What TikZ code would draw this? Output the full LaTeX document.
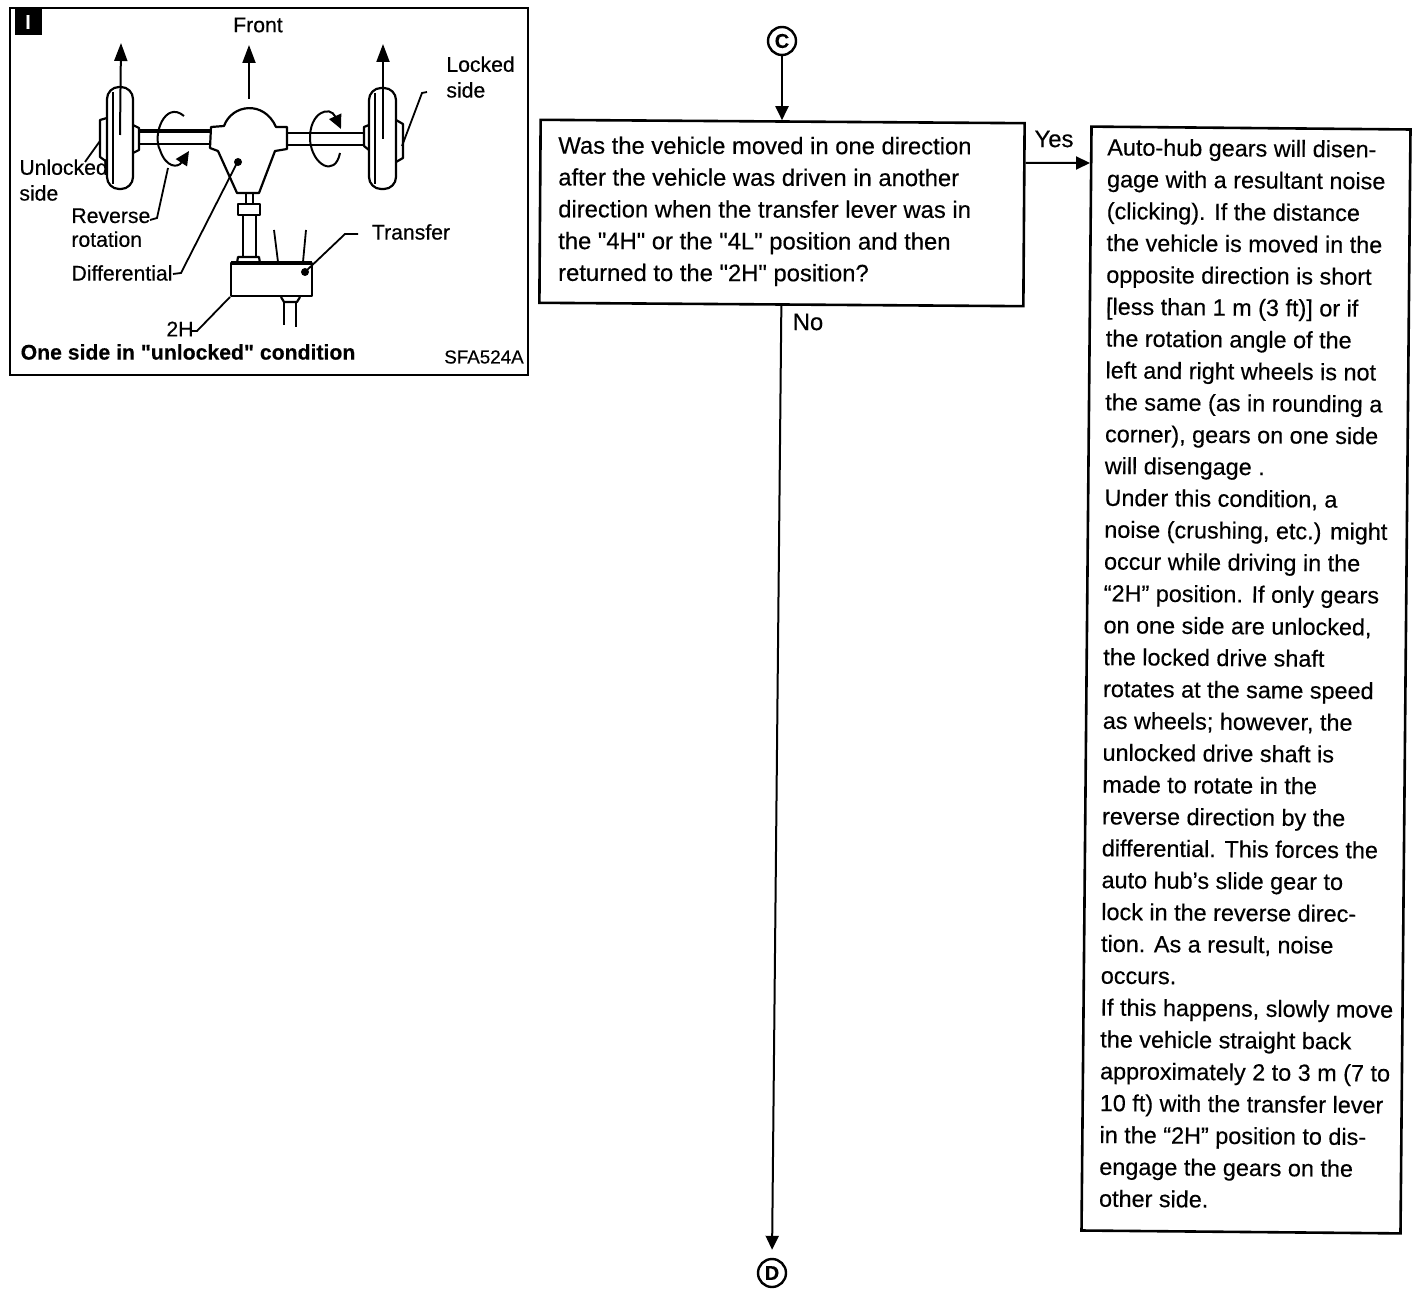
\documentclass[tikz,border=0pt]{standalone}
\usepackage{xcolor}
\usepackage{fontspec}
\setmainfont[FakeBold=0.35]{Liberation Sans}
\usepackage{tikz}
\usetikzlibrary{arrows.meta,positioning}
\definecolor{ink}{HTML}{000000}
\newcommand{\qmark}{\XeTeXglyph\XeTeXcharglyph34\relax}
\tikzset{
  flowbox/.style={rectangle,draw=ink,line width=1.3pt,inner sep=0pt,fill=white},
  flowtext/.style={font=\fontsize{11.9}{15.9}\selectfont,align=left,anchor=north west,inner sep=0pt},
  conn/.style={-{Stealth[length=7pt,width=6.5pt,inset=0pt]},draw=ink,line width=1pt},
  bigconn/.style={-{Stealth[length=9pt,width=6.5pt,inset=0pt]},draw=ink,line width=1pt},
  onpage/.style={circle,draw=ink,line width=1.2pt,inner sep=0pt,minimum size=14pt,font=\fontsize{10}{10}\selectfont\bfseries},
  lbl/.style={font=\fontsize{10.6}{12.4}\selectfont,align=left,inner sep=0pt,text=ink},
  part/.style={draw=ink,line width=1.1pt,line join=round},
  thin/.style={draw=ink,line width=0.9pt},
}
\begin{document}
\begin{tikzpicture}[x=0.5pt,y=-0.5pt]
\useasboundingbox (0,0) rectangle (1424,1294);
\fill[white] (0,0) rectangle (1424,1294);
% inset frame
\node[rectangle,draw=ink,line width=1.3pt,minimum width=259pt,minimum height=183.5pt,inner sep=0pt] (inset) at (269,191.5) {};
\node[rectangle,fill=ink,text=white,minimum width=13.5pt,minimum height=13.5pt,inner sep=0pt,font=\fontsize{10}{10}\selectfont\bfseries] (tag) at (28,22) {I};
% wheels
\draw[part,rounded corners=6pt] (107,87) rectangle (133,189);
\draw[part] (113,92) -- (113,184);
\draw[part,rounded corners=6pt] (369,88) rectangle (396,189);
\draw[part] (375,93) -- (375,184);
\draw[part] (107,118) -- (100,120) -- (100,157) -- (107,162);
\draw[part] (133,125) -- (139,128) -- (139,150) -- (133,153);
\draw[part] (369,125) -- (364,127) -- (364,146) -- (369,150);
\draw[part] (396,120) -- (403,124) -- (403,158) -- (396,162);
% shafts
\draw[draw=ink,line width=1.7pt] (139,131) -- (210,131);
\draw[draw=ink,line width=1.4pt] (139,144) -- (210,144);
\draw[part] (287,133) -- (364,133);
\draw[part] (287,145) -- (364,145);
% differential
\draw[part,fill=white] (224,126) .. controls (232,104) and (264,100) .. (276,127) -- (287,127) -- (287,149) -- (275,151) -- (259,193) -- (237,193) -- (218,151) -- (210,148) -- (211,127) -- cycle;
\draw[part] (246,193) -- (246,203);
\draw[part] (253,193) -- (253,203);
\draw[part] (238,204) rectangle (260,215);
\draw[part] (243,215) -- (243,257);
\draw[part] (256,215) -- (256,257);
\draw[part] (237,263) -- (238,257) -- (259,257) -- (260,263);
% transfer
\draw[part] (231,263) rectangle (312,296);
\draw[draw=ink,line width=1.8pt] (231,263) -- (312,263);
\draw[thin] (274,230) -- (278,262);
\draw[thin] (306,230) -- (303,262);
\draw[part] (281,297) -- (284,302) -- (297,302) -- (300,297);
\draw[part] (284,302) -- (284,325);
\draw[part] (296,302) -- (296,327);
% travel arrows
\draw[bigconn] (120,135) -- (121,43);
\draw[bigconn] (249,99) -- (249,45);
\draw[bigconn] (383,139) -- (383,44);
% rotation arrows
\draw[conn] (184,116) .. controls (165,100) and (152,135) .. (160,150) .. controls (166,168) and (178,168) .. (189,151);
\draw[conn] (340,153) .. controls (335,178) and (312,165) .. (310,140) .. controls (309,112) and (330,105) .. (341,129);
% labels
\node[lbl] (front) at (258,25) {Front};
\node[lbl,anchor=north west] (locked) at (446,56) {Locked\\[0.5pt]side};
\node[lbl,anchor=north west] (unlocked) at (19,159) {Unlocked\\[0.5pt]side};
\node[lbl,anchor=north west] (reverse) at (71,208) {Reverse\\[-0.5pt]rotation};
\node[lbl] (differential) at (122,273) {Differential};
\node[lbl] (transfer) at (411,232) {Transfer};
\node[lbl] (twoh) at (180,329) {2H};
\node[lbl,font=\fontsize{10.6}{11}\selectfont\bfseries] (caption) at (188,352) {One side in \qmark unlocked\qmark{} condition};
\node[lbl,font=\fontsize{9.4}{11}\selectfont] (code) at (484,357) {SFA524A};
% leaders
\draw[thin] (100,141) -- (85,162);
\draw[thin] (168,168) -- (157,218) -- (150,220);
\draw[thin] (238,161) -- (181,273) -- (173,274);
\draw[thin] (305,272) -- (345,234) -- (358,234);
\draw[thin] (230,297) -- (197,331) -- (192,331);
\draw[thin] (402,146) -- (422,93) -- (427,92);
\fill[ink] (238,162) circle (2pt);
\fill[ink] (305,272) circle (2pt);
% flow chart
\node[onpage] (c) at (782,41) {C};
\node[flowbox,rotate=-0.4,minimum width=242pt,minimum height=91.5pt] (q) at (782,213) {};
\node[flowbox,rotate=-0.52,minimum width=159.5pt,minimum height=552pt] (a) at (1246,680) {};
\node[onpage] (d) at (772,1273) {D};
\node[flowtext,rotate=-0.1] (qtext) at (558,136) {Was the vehicle moved in one direction\\after the vehicle was driven in another\\direction when the transfer lever was in\\the \qmark 4H\qmark{} or the \qmark 4L\qmark{} position and then\\returned to the \qmark 2H\qmark{} position?};
\node[flowtext,rotate=-0.45,font=\fontsize{11.7}{15.93}\selectfont] (atext) at (1107,138) {Auto-hub gears will disen-\\gage with a resultant noise\\(clicking). If the distance\\the vehicle is moved in the\\opposite direction is short\\{[}less than 1 m (3 ft){]} or if\\the rotation angle of the\\left and right wheels is not\\the same (as in rounding a\\corner), gears on one side\\will disengage .\\Under this condition, a\\noise (crushing, etc.) might\\occur while driving in the\\“2H” position. If only gears\\on one side are unlocked,\\the locked drive shaft\\rotates at the same speed\\as wheels; however, the\\unlocked drive shaft is\\made to rotate in the\\reverse direction by the\\differential. This forces the\\auto hub's slide gear to\\lock in the reverse direc-\\tion. As a result, noise\\occurs.\\If this happens, slowly move\\the vehicle straight back\\approximately 2 to 3 m (7 to\\10 ft) with the transfer lever\\in the “2H” position to dis-\\engage the gears on the\\other side.};
\coordinate (yesend) at (1090,163);
\draw[conn] (c.south) -- (c |- q.north);
\draw[conn] (q.12) -- (yesend);
\draw[conn,shorten >=4pt] (q.south) -- (d.north);
\node[lbl,font=\fontsize{11.9}{14}\selectfont] (yes) at (1054,139) {Yes};
\node[lbl,font=\fontsize{11.9}{14}\selectfont] (no) at (808,322) {No};
\end{tikzpicture}
\end{document}
